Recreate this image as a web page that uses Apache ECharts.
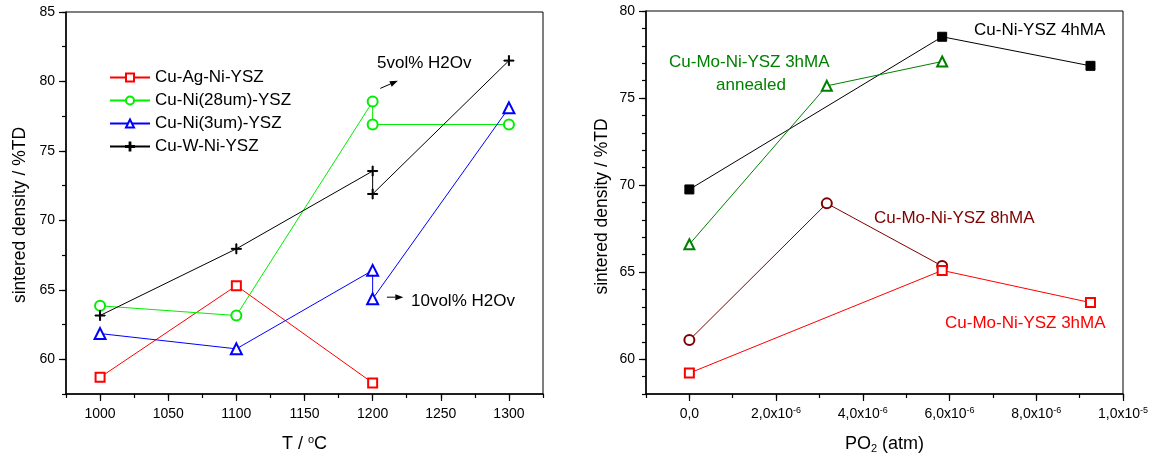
<!DOCTYPE html>
<html>
<head>
<meta charset="utf-8">
<script src="https://cdn.jsdelivr.net/npm/echarts@6/dist/echarts.min.js"></script>
<style>
html,body{margin:0;padding:0;background:#fff;}
#chart{width:1152px;height:463px;}
</style>
</head>
<body>
<div id="chart"></div>
<script>
// ---------- Left panel data ----------
const leftNames = ['Cu-Ag-Ni-YSZ', 'Cu-Ni(28um)-YSZ', 'Cu-Ni(3um)-YSZ', 'Cu-W-Ni-YSZ'];
const leftAgX = [1000, 1100, 1200];
const leftAgY = [58.7, 65.3, 58.3];
const leftNi28X = [1000, 1100, 1200, 1200, 1300];
const leftNi28Y = [63.85, 63.15, 78.55, 76.9, 76.9];
const leftNi3X = [1000, 1100, 1200, 1200, 1300];
const leftNi3Y = [61.85, 60.75, 66.4, 64.35, 78.1];
const leftWX = [1000, 1100, 1200, 1200, 1300];
const leftWY = [63.15, 67.95, 73.55, 71.9, 81.5];
const leftXTicks = [1000, 1050, 1100, 1150, 1200, 1250, 1300];
const leftYTicks = [60, 65, 70, 75, 80, 85];
const arrow5X = [1205.6, 1218.5];
const arrow5Y = [79.5, 80.05];
const arrow10X = [1210.5, 1222.5];
const arrow10Y = [64.47, 64.47];

// ---------- Right panel data ----------
const rightNi4hX = [0, 5.83e-6, 9.25e-6];
const rightNi4hY = [69.75, 78.52, 76.85];
const rightMoAnnX = [0, 3.17e-6, 5.83e-6];
const rightMoAnnY = [66.6, 75.7, 77.1];
const rightMo8hX = [0, 3.17e-6, 5.83e-6];
const rightMo8hY = [61.1, 68.95, 65.35];
const rightMo3hX = [0, 5.83e-6, 9.25e-6];
const rightMo3hY = [59.2, 65.1, 63.25];
const rightXTicks = [0, 2e-6, 4e-6, 6e-6, 8e-6, 1e-5];
const rightYTicks = [60, 65, 70, 75, 80];

const zip = (xs, ys) => xs.map((x, i) => [x, ys[i]]);
const FONT = 'Liberation Sans, Arial, sans-serif';
const plusPath = 'path://M4.5,0 H5.5 V4.5 H10 V5.5 H5.5 V10 H4.5 V5.5 H0 V4.5 H4.5 Z';

function sciLabel(v) {
  if (Math.abs(v) < 1e-12) return '{b|0,0}';
  const e = Math.floor(Math.log10(Math.abs(v)) + 1e-9);
  const m = (v / Math.pow(10, e)).toFixed(1).replace('.', ',');
  return '{b|' + m + 'x10}{sup|' + e + '}';
}

const labelRich = {
  b: {fontSize: 14, fontFamily: FONT, color: '#000', lineHeight: 16},
  sup: {fontSize: 9, fontFamily: FONT, color: '#000', verticalAlign: 'top', lineHeight: 9, padding: [0, 0, 6, 0]}
};

function mainXAxis(grid, min, max, ticks, name, fmt) {
  return {
    type: 'value', gridIndex: grid, position: 'bottom', min: min, max: max,
    axisLine: {show: true, onZero: false, lineStyle: {color: '#000', width: 1.5}},
    axisTick: {show: true, length: 7, inside: false, customValues: ticks, lineStyle: {color: '#000', width: 1.2}},
    axisLabel: {show: true, customValues: ticks, margin: 12, color: '#000', fontSize: 14, fontFamily: FONT, formatter: fmt, rich: labelRich},
    splitLine: {show: false},
    name: name, nameLocation: 'middle', nameGap: 40,
    nameTextStyle: {fontSize: 18, fontFamily: FONT, color: '#000', rich: {
      a: {fontSize: 18, fontFamily: FONT, color: '#000', lineHeight: 20},
      sup: {fontSize: 11, fontFamily: FONT, color: '#000', verticalAlign: 'top', lineHeight: 11, padding: [0, 0, 6, 0]},
      sub: {fontSize: 11, fontFamily: FONT, color: '#000', verticalAlign: 'bottom', lineHeight: 11, padding: [6, 0, 0, 0]}
    }}
  };
}
function minorXAxis(grid, min, max, step) {
  return {
    type: 'value', gridIndex: grid, position: 'bottom', min: min, max: max, interval: step,
    axisLine: {show: false, onZero: false},
    axisTick: {show: true, length: 4, lineStyle: {color: '#000', width: 1.2}},
    axisLabel: {show: false}, splitLine: {show: false}
  };
}
function mainYAxis(grid, min, max, ticks, nameGap, pad) {
  return {
    type: 'value', gridIndex: grid, position: 'left', min: min, max: max,
    axisLine: {show: true, onZero: false, lineStyle: {color: '#000', width: 1.5}},
    axisTick: {show: true, length: 7, customValues: ticks, lineStyle: {color: '#000', width: 1.2}},
    axisLabel: {show: true, customValues: ticks, margin: 11, color: '#000', fontSize: 14, fontFamily: FONT},
    splitLine: {show: false},
    name: 'sintered density / %TD', nameLocation: 'middle', nameGap: nameGap,
    nameTextStyle: {fontSize: 17.5, fontFamily: FONT, color: '#000', padding: pad}
  };
}
function minorYAxis(grid, min, max, step) {
  return {
    type: 'value', gridIndex: grid, position: 'left', min: min, max: max, interval: step,
    axisLine: {show: false, onZero: false},
    axisTick: {show: true, length: 4, lineStyle: {color: '#000', width: 1.2}},
    axisLabel: {show: false}, splitLine: {show: false}
  };
}

function lineSeries(name, data, color, symbol, size, xi, yi) {
  return {
    type: 'line', name: name, data: data, xAxisIndex: xi, yAxisIndex: yi,
    symbol: symbol, symbolSize: size, showAllSymbol: true,
    lineStyle: {color: color, width: 1},
    itemStyle: {color: color, borderColor: color, borderWidth: 1},
    emphasis: {disabled: true}, z: 3
  };
}

const chart = echarts.init(document.getElementById('chart'), null, {renderer: 'canvas'});

function txt(x, y, s, color, align) {
  return {type: 'text', x: x, y: y, style: {text: s, font: '17px ' + FONT, fill: color, align: align || 'left', verticalAlign: 'middle'}};
}

const option = {
  backgroundColor: '#fff',
  animation: false,
  grid: [
    {left: 66, top: 12, width: 477, height: 382, show: true, borderColor: '#000', borderWidth: 1, backgroundColor: 'transparent'},
    {left: 646, top: 11, width: 477, height: 383, show: true, borderColor: '#000', borderWidth: 1, backgroundColor: 'transparent'}
  ],
  xAxis: [
    mainXAxis(0, 975, 1325, leftXTicks, '{a|T / }{sup|o}{a|C}', v => '{b|' + v + '}'),
    minorXAxis(0, 975, 1325, 25),
    mainXAxis(1, -1e-6, 1e-5, rightXTicks, '{a|PO}{sub|2}{a| (atm)}', sciLabel),
    minorXAxis(1, -1e-6, 1e-5, 1e-6)
  ],
  yAxis: [
    mainYAxis(0, 57.5, 85, leftYTicks, 37, [0, 24, 0, 0]),
    minorYAxis(0, 57.5, 85, 2.5),
    mainYAxis(1, 58, 80, rightYTicks, 35, [0, 8, 0, 0]),
    minorYAxis(1, 58, 80, 1)
  ],
  legend: {
    show: true, orient: 'vertical', left: 104, top: 64,
    itemWidth: 40, itemHeight: 10, itemGap: 6,
    textStyle: {fontSize: 17, fontFamily: FONT, color: '#000', lineHeight: 17},
    data: leftNames, selectedMode: false
  },
  series: [
    lineSeries(leftNames[0], zip(leftAgX, leftAgY), '#ff0000', 'emptyRect', 9, 0, 0),
    lineSeries(leftNames[1], zip(leftNi28X, leftNi28Y), '#00ee00', 'emptyCircle', 10, 0, 0),
    lineSeries(leftNames[2], zip(leftNi3X, leftNi3Y), '#0000ff', 'emptyTriangle', 11, 0, 0),
    lineSeries(leftNames[3], zip(leftWX, leftWY), '#000000', plusPath, 10, 0, 0),
    lineSeries('Cu-Ni-YSZ 4hMA', zip(rightNi4hX, rightNi4hY), '#000000', 'rect', 9, 2, 2),
    lineSeries('Cu-Mo-Ni-YSZ 3hMA annealed', zip(rightMoAnnX, rightMoAnnY), '#008000', 'emptyTriangle', 10, 2, 2),
    lineSeries('Cu-Mo-Ni-YSZ 8hMA', zip(rightMo8hX, rightMo8hY), '#800000', 'emptyCircle', 10, 2, 2),
    lineSeries('Cu-Mo-Ni-YSZ 3hMA', zip(rightMo3hX, rightMo3hY), '#ff0000', 'emptyRect', 9, 2, 2)
  ]
};
chart.setOption(option);

// Arrows for the annotations, placed through the left panel's axes
function arrowGraphic(xs, ys) {
  const p0 = chart.convertToPixel({xAxisIndex: 0, yAxisIndex: 0}, [xs[0], ys[0]]);
  const p1 = chart.convertToPixel({xAxisIndex: 0, yAxisIndex: 0}, [xs[1], ys[1]]);
  const dx = p1[0] - p0[0], dy = p1[1] - p0[1];
  const len = Math.sqrt(dx * dx + dy * dy);
  const ux = dx / len, uy = dy / len;
  const hl = 8, hw = 3;
  const bx = p1[0] - ux * hl, by = p1[1] - uy * hl;
  return [
    {type: 'line', shape: {x1: p0[0], y1: p0[1], x2: bx, y2: by}, style: {stroke: '#000', lineWidth: 1}},
    {type: 'polygon', shape: {points: [[p1[0], p1[1]], [bx - uy * hw, by + ux * hw], [bx + uy * hw, by - ux * hw]]}, style: {fill: '#000'}}
  ];
}

chart.setOption({
  graphic: [
    txt(377, 63, '5vol% H2Ov', '#000'),
    txt(411, 301, '10vol% H2Ov', '#000'),
    txt(974, 30, 'Cu-Ni-YSZ 4hMA', '#000'),
    txt(669, 62, 'Cu-Mo-Ni-YSZ 3hMA', '#008000'),
    txt(751, 85, 'annealed', '#008000', 'center'),
    txt(874, 218, 'Cu-Mo-Ni-YSZ 8hMA', '#800000'),
    txt(945, 323, 'Cu-Mo-Ni-YSZ 3hMA', '#ff0000')
  ].concat(arrowGraphic(arrow5X, arrow5Y)).concat(arrowGraphic(arrow10X, arrow10Y))
});
</script>
</body>
</html>
